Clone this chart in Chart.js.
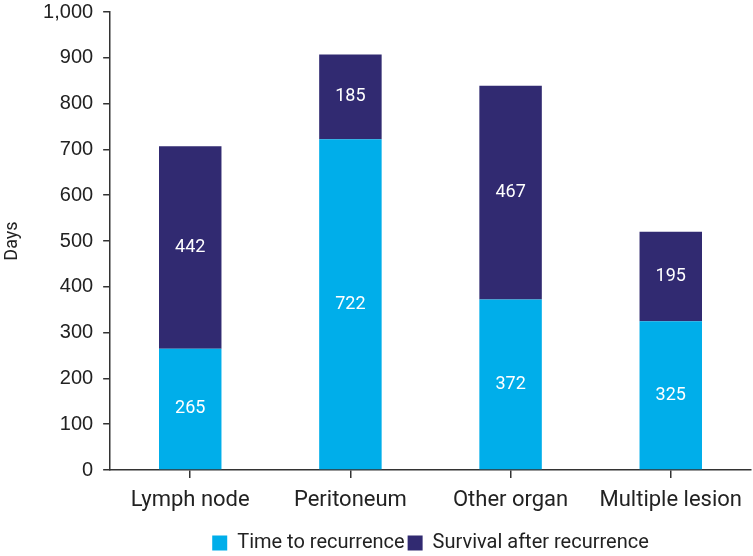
<!DOCTYPE html>
<html>
<head>
<meta charset="utf-8">
<script src="https://cdn.jsdelivr.net/npm/chart.js@4"></script>
<style>
html,body{margin:0;padding:0;background:#fff;}
#wrap{width:753px;height:556px;}
</style>
</head>
<body>
<div id="wrap"><canvas id="c" width="753" height="556"></canvas></div>
<script>
const categories = ["Lymph node", "Peritoneum", "Other organ", "Multiple lesion"];
const timeToRecurrence = [265, 722, 372, 325];
const survivalAfterRecurrence = [442, 185, 467, 195];
const seriesNames = ["Time to recurrence", "Survival after recurrence"];
const yTicks = [0, 100, 200, 300, 400, 500, 600, 700, 800, 900, 1000];

const segmentLabels = {
  id: 'segmentLabels',
  afterDatasetsDraw(chart) {
    const ctx = chart.ctx;
    ctx.save();
    ctx.fillStyle = '#ffffff';
    ctx.font = '18px Roboto, "Liberation Sans", sans-serif';
    ctx.textAlign = 'center';
    ctx.textBaseline = 'middle';
    chart.data.datasets.forEach((ds, i) => {
      const meta = chart.getDatasetMeta(i);
      meta.data.forEach((el, j) => {
        const p = el.getProps(['x', 'y', 'base'], true);
        ctx.fillText(String(ds.data[j]), p.x, (p.y + p.base) / 2);
      });
    });
    ctx.restore();
  }
};

new Chart(document.getElementById('c'), {
  type: 'bar',
  data: {
    labels: categories,
    datasets: [
      { label: seriesNames[0], data: timeToRecurrence, backgroundColor: '#00AEEA', borderWidth: 0 },
      { label: seriesNames[1], data: survivalAfterRecurrence, backgroundColor: '#312A71', borderWidth: 0 }
    ]
  },
  options: {
    responsive: false,
    devicePixelRatio: 1,
    animation: false,
    layout: { padding: { top: 0, right: 0, left: 2, bottom: -7 } },
    datasets: { bar: { barPercentage: 0.39, categoryPercentage: 1.0 } },
    plugins: {
      legend: {
        position: 'bottom',
        fullSize: false,
        labels: {
          boxWidth: 15, boxHeight: 15, padding: 3,
          color: '#222',
          font: { family: 'Roboto, "Liberation Sans", sans-serif', size: 20 }
        }
      },
      tooltip: { enabled: false }
    },
    scales: {
      x: {
        stacked: true,
        grid: { offset: false, drawOnChartArea: false, drawTicks: true, tickLength: 8, color: '#333', lineWidth: 1.5 },
        border: { display: true, color: '#333', width: 1.5 },
        ticks: { color: '#222', padding: 11, font: { family: 'Roboto, "Liberation Sans", sans-serif', size: 22, lineHeight: 1.0 } },
        title: { display: true, text: ' ', padding: 0, font: { size: 8, lineHeight: 1.0 } }
      },
      y: {
        stacked: true,
        min: 0, max: 1000,
        afterBuildTicks(axis) { axis.ticks = yTicks.map(v => ({ value: v })); },
        grid: { drawOnChartArea: false, drawTicks: true, tickLength: 7, color: '#333', lineWidth: 1.5 },
        border: { display: true, color: '#333', width: 1.5 },
        ticks: {
          color: '#222', padding: 10,
          font: { family: '"Liberation Sans", Arial, sans-serif', size: 20, lineHeight: 0.2 },
          callback: (v) => Number(v).toLocaleString('en-US')
        },
        title: {
          display: true, text: 'Days', color: '#222', padding: { top: 0, bottom: 9.5 },
          font: { family: 'Roboto, "Liberation Sans", sans-serif', size: 18 }
        }
      }
    }
  },
  plugins: [segmentLabels]
});
</script>
</body>
</html>
